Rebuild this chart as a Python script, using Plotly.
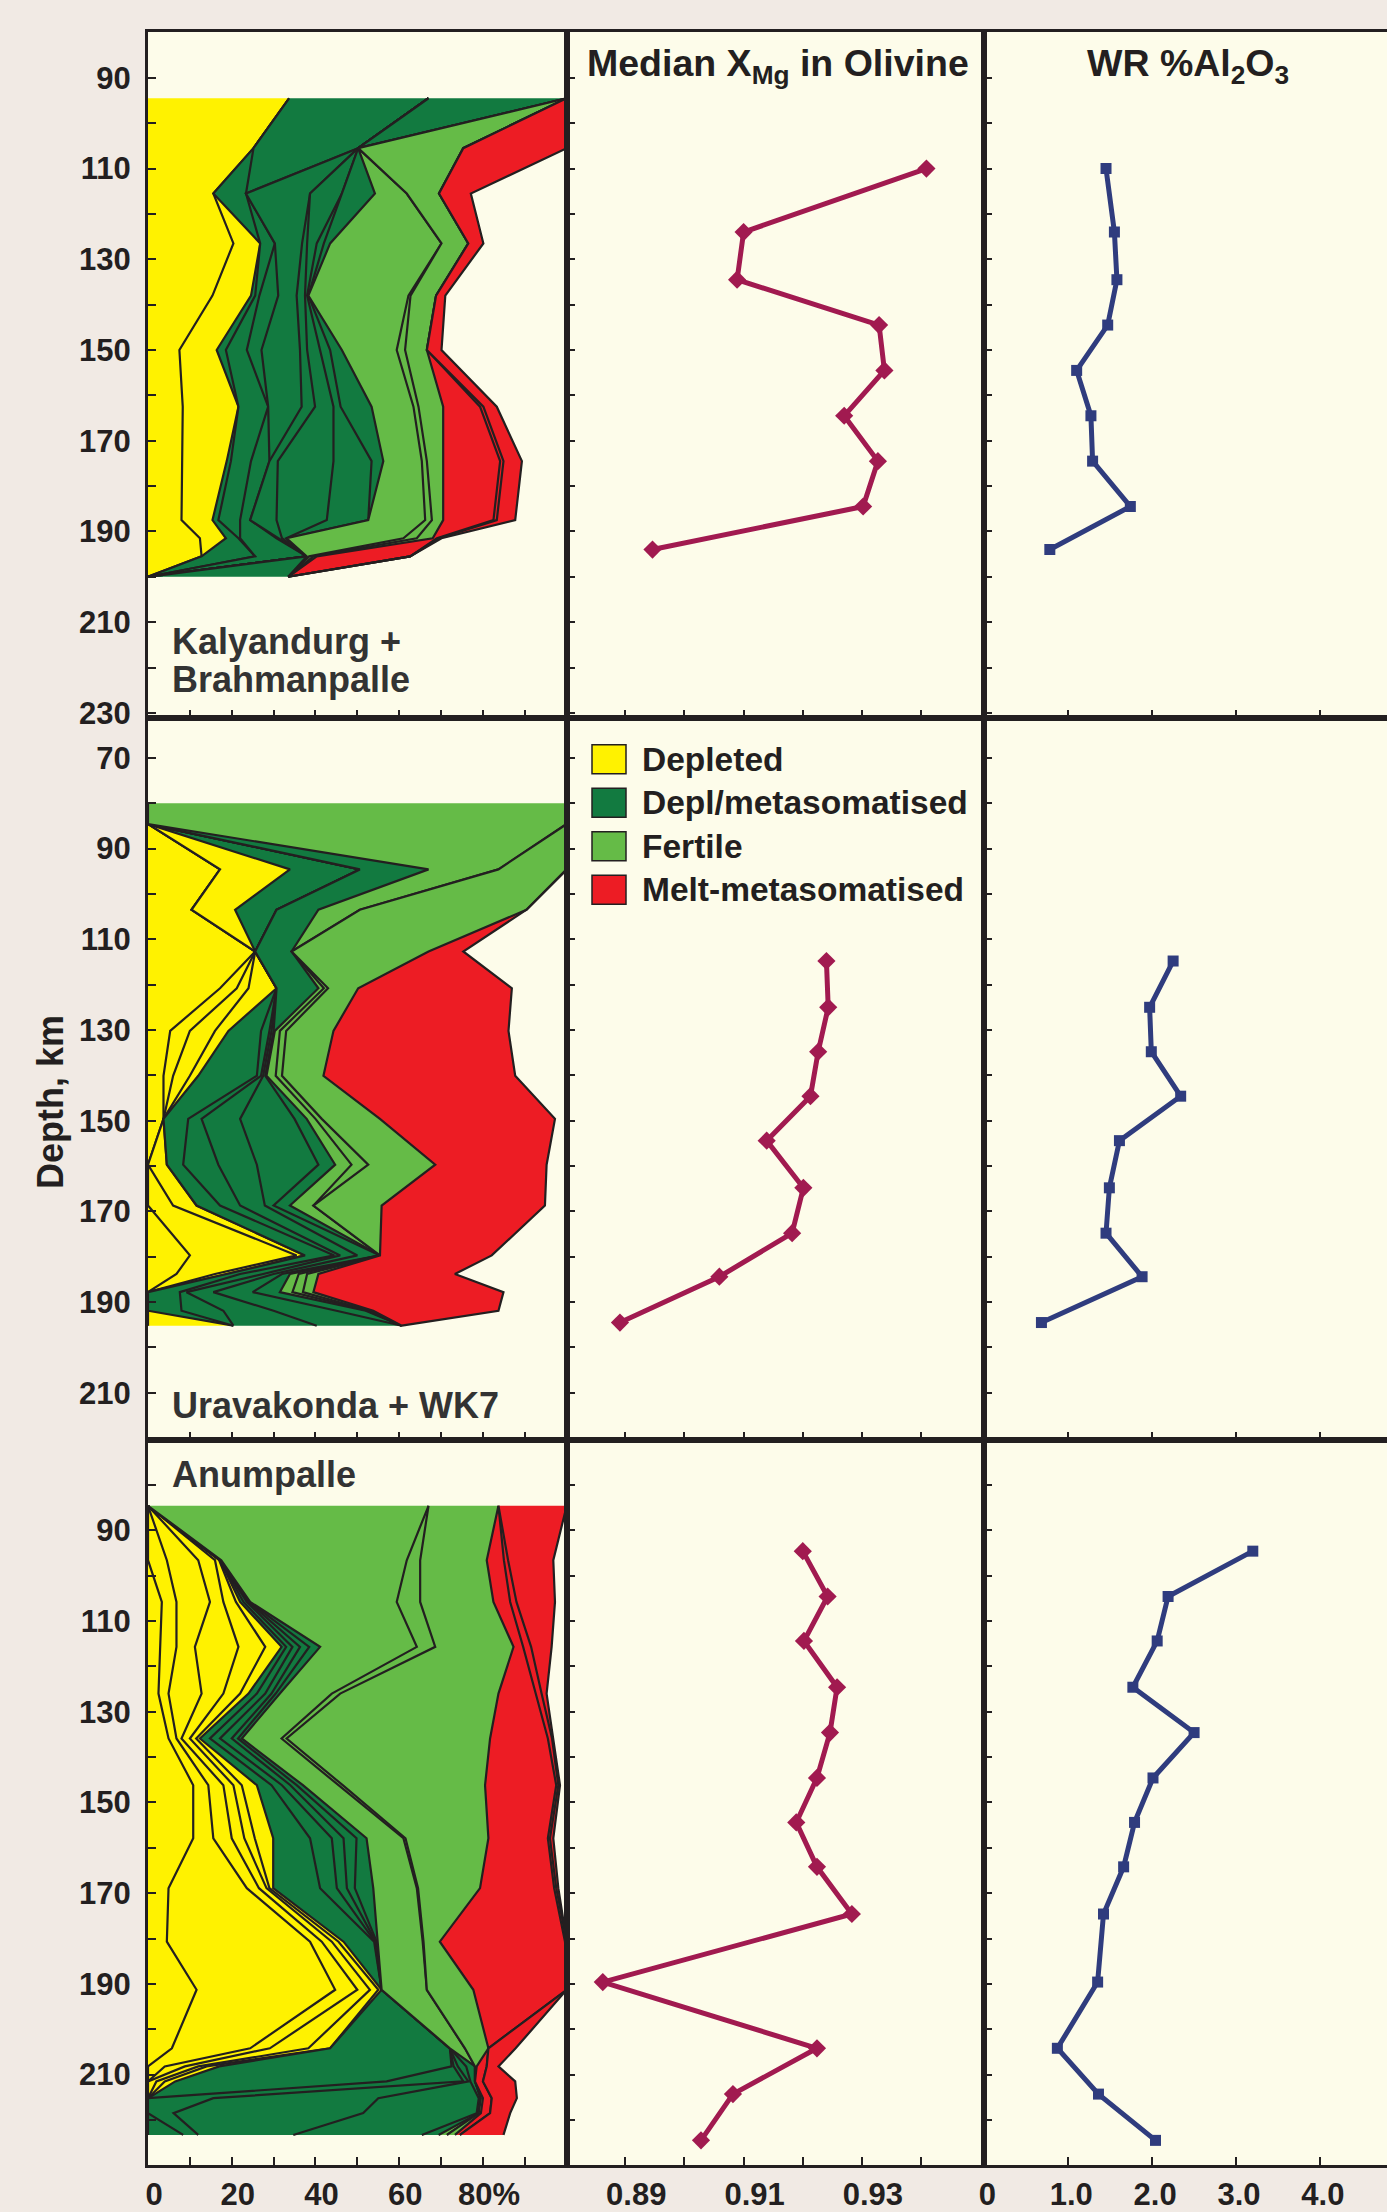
import plotly.graph_objects as go

# ================= DATA =================
# --- Kalyandurg + Brahmanpalle (row 1): cumulative % boundaries vs depth
depth_kb = [94.5, 105.5, 115.5, 126.5, 138, 150, 162.5, 174.5, 187.5, 191.5, 195.5, 200]
kb_dep1 = [33.7, 25.2, 15.6, 20.4, 15.4, 7.5, 8.3, 8.2, 8.0, 12.4, 12.8, 0]
kb_dep2 = [33.7, 25.2, 15.6, 26.8, 24.6, 16.4, 21.6, 18.8, 15.4, 18.6, 12.8, 0]
kb_met1 = [33.7, 25.2, 23.4, 26.8, 25.6, 18.6, 21.6, 19.8, 16.8, 21.6, 25.6, 0]
kb_met2 = [67, 50.2, 23.4, 30.3, 26.6, 23.6, 28.7, 24.6, 22.0, 22.0, 25.6, 0]
kb_met3 = [67, 50.2, 23.4, 30.3, 31.1, 27.1, 28.7, 29.0, 24.4, 30.7, 37.9, 0]
kb_met4 = [67, 50.2, 38.7, 36.8, 35.5, 36.3, 36.7, 29.0, 24.4, 31.0, 37.9, 0]
kb_met5 = [67, 50.2, 38.7, 38.0, 37.5, 38.0, 39.9, 31.0, 30.7, 32.0, 37.9, 0]
kb_met6 = [67, 50.2, 46.3, 40.3, 38.0, 41.0, 44.3, 44.3, 42.7, 33.0, 37.9, 0]
kb_met7 = [67, 50.2, 46.3, 42.0, 38.3, 43.5, 46.0, 53.4, 52.6, 33.1, 37.9, 0]
kb_met8 = [100, 50.2, 54.2, 43.5, 38.3, 46.3, 53.4, 56.2, 52.6, 33.1, 37.9, 33.5]
kb_fer1 = [100, 50.2, 61.8, 70.1, 62.2, 59.4, 63.4, 65.4, 66.2, 61.0, 38.5, 33.5]
kb_fer2 = [100, 50.2, 61.8, 70.1, 62.7, 61.4, 64.6, 66.6, 67.8, 64.2, 39.5, 33.5]
kb_fer3 = [100, 75.3, 69.5, 76.5, 68.8, 66.6, 70.5, 70.5, 70.5, 68.0, 40.3, 33.5]
kb_mlt1 = [100, 75.3, 69.5, 76.5, 68.8, 66.6, 79.3, 84.1, 82.5, 69.0, 62.6, 33.5]
kb_mlt2 = [100, 75.3, 69.5, 76.5, 68.8, 66.6, 80.1, 84.9, 83.3, 69.5, 62.6, 33.5]
kb_mlt3 = [100, 100, 77.1, 80.1, 71.0, 70.1, 83.3, 89.3, 87.7, 70.1, 62.6, 33.5]

# --- Uravakonda + WK7 (row 2)
depth_uw = [80, 84.6, 94.6, 103.5, 112.7, 120.8, 130.2, 140.1, 149.6, 159.7, 168.7, 179.7, 183.8, 187.8, 191.9, 195.2]
uw_dep1 = [0, 0, 17.2, 10.4, 25.6, 17.2, 5.3, 3.7, 3.7, 0, 0, 10.0, 6.8, 0, 0, 0]
uw_dep2 = [0, 0, 17.2, 10.4, 25.6, 21.2, 10.0, 6.0, 3.7, 0, 6.0, 35.5, 16.0, 0, 0, 0]
uw_dep3 = [0, 0, 17.2, 10.4, 25.6, 24.0, 16.0, 10.0, 3.7, 4.5, 11.6, 37.5, 18.8, 0, 0, 0]
uw_dep4 = [0, 0, 33.9, 20.8, 25.6, 30.7, 19.2, 12.0, 3.7, 4.5, 11.6, 37.5, 18.8, 0, 0, 20.4]
uw_met1 = [0, 0, 50.6, 30.7, 25.6, 30.7, 27.0, 26.0, 9.6, 8.4, 17.2, 44.5, 22.0, 7.6, 8.0, 20.4]
uw_met2 = [0, 0, 50.6, 30.7, 25.6, 30.7, 29.0, 27.0, 12.8, 16.8, 22.0, 45.9, 27.5, 9.2, 18.0, 20.4]
uw_met3 = [0, 0, 50.6, 30.7, 25.6, 30.7, 29.5, 27.5, 22.0, 26.0, 27.9, 50.0, 30.0, 15.6, 30.0, 40.3]
uw_met4 = [0, 0, 50.6, 30.7, 25.6, 30.7, 30.0, 28.0, 35.0, 40.7, 30.0, 55.4, 32.0, 25.0, 45.0, 60.6]
uw_met5 = [0, 0, 67.0, 40.7, 34.3, 40.7, 30.3, 28.3, 37.9, 44.7, 33.9, 55.4, 33.9, 31.5, 52.0, 60.6]
uw_fer1 = [100, 100, 83.7, 50.6, 34.3, 42.0, 31.5, 30.5, 40.0, 48.6, 39.5, 55.4, 36.0, 34.5, 52.5, 60.6]
uw_fer2 = [100, 100, 83.7, 50.6, 34.3, 43.0, 33.0, 32.0, 41.5, 52.6, 39.5, 55.4, 38.0, 37.0, 53.0, 60.6]
uw_fer3 = [100, 100, 100, 90.4, 67.0, 50.2, 44.3, 41.9, 55.4, 68.6, 55.8, 55.4, 40.7, 39.5, 53.8, 60.6]
uw_mlt1 = [100, 100, 100, 90.4, 75.3, 86.9, 86.1, 87.7, 97.2, 95.2, 94.8, 82.1, 73.3, 84.9, 83.7, 60.6]

# --- Anumpalle (row 3)
depth_an = [84.6, 96.6, 105.8, 115.7, 126.0, 135.9, 146.2, 157.9, 168.9, 180.7, 191.3, 204.2, 208.2, 211.5, 215.2, 218.5, 223.3]
an_dep1 = [0, 0, 3.3, 2.9, 2.5, 4.9, 10.8, 10.8, 4.9, 4.5, 11.6, 5.7, 0, 0, 0, 0, 0]
an_dep2 = [0, 4.5, 6.8, 6.8, 4.9, 6.8, 14.4, 15.6, 23.6, 38.7, 44.7, 24.4, 4.0, 0, 0, 0, 0]
an_dep3 = [0, 12.0, 14.8, 11.2, 12.8, 8.0, 18.0, 20.0, 26.5, 41.5, 50.0, 29.1, 8.8, 0, 0, 0, 0]
an_dep4 = [0, 16.0, 18.0, 21.6, 18.0, 10.0, 20.4, 23.0, 28.3, 43.9, 53.0, 38.3, 12.0, 2.0, 0, 0, 0]
an_dep5 = [0, 17.0, 21.0, 28.0, 22.0, 11.5, 22.4, 25.5, 29.0, 45.5, 55.0, 43.5, 14.0, 4.0, 0, 0, 0]
an_dep6 = [0, 17.2, 22.0, 31.9, 24.0, 12.4, 26.0, 29.9, 29.9, 46.7, 55.8, 43.5, 17.0, 6.5, 0, 0, 0]
an_met1 = [0, 17.2, 22.8, 33.0, 26.0, 14.8, 29.5, 38.7, 41.1, 54.0, 55.8, 72.1, 72.5, 57.0, 0, 0, 8.4]
an_met2 = [0, 17.2, 23.6, 34.5, 28.0, 17.2, 32.0, 43.9, 45.1, 54.2, 55.8, 72.1, 73.0, 75.3, 15.6, 6.1, 12.0]
an_met3 = [0, 17.2, 24.0, 36.3, 29.5, 20.0, 34.0, 46.7, 47.5, 54.4, 55.8, 72.1, 74.0, 76.5, 55.0, 51.4, 34.7]
an_met4 = [0, 17.2, 24.2, 38.5, 30.5, 21.5, 35.5, 49.8, 49.4, 54.6, 55.8, 72.1, 76.0, 77.0, 79.0, 78.5, 65.4]
an_met5 = [0, 17.5, 24.4, 41.1, 31.5, 22.4, 37.0, 52.2, 53.8, 54.8, 55.8, 72.1, 78.1, 78.1, 79.5, 79.0, 69.4]
an_fer1 = [67.0, 61.8, 59.4, 64.2, 43.9, 31.9, 45.5, 61.0, 64.2, 65.6, 66.6, 75.7, 78.1, 78.1, 79.5, 79.0, 71.4]
an_fer2 = [67.0, 65.0, 65.0, 68.6, 45.9, 33.1, 46.5, 61.5, 64.5, 65.8, 66.6, 75.7, 78.1, 78.1, 79.5, 79.0, 71.4]
an_fer3 = [83.7, 80.9, 82.5, 87.3, 83.7, 81.7, 80.5, 81.3, 79.3, 69.7, 77.7, 81.3, 78.5, 78.1, 80.0, 79.5, 73.3]
an_mlt1 = [83.7, 85.0, 86.5, 89.6, 92.6, 95.5, 97.5, 95.5, 97.0, 99.6, 100, 81.3, 80.9, 80.0, 82.1, 81.7, 74.5]
an_mlt2 = [83.7, 86.0, 88.0, 91.5, 94.0, 96.5, 98.0, 96.0, 97.5, 100, 100, 81.3, 80.9, 80.0, 82.1, 81.7, 74.5]
an_mlt3 = [100, 96.8, 97.2, 96.4, 95.2, 96.8, 98.4, 96.8, 98.0, 100, 100, 87.8, 83.7, 87.7, 88.1, 86.5, 84.9]

# --- Median XMg in olivine and WR %Al2O3
chem_depth_kb = [110, 124, 134.5, 144.5, 154.5, 164.5, 174.5, 184.5, 194]
xmg_kb = [0.9409, 0.9100, 0.9089, 0.9329, 0.9338, 0.9270, 0.9327, 0.9302, 0.8946]
al_kb = [1.45, 1.55, 1.58, 1.47, 1.10, 1.27, 1.29, 1.74, 0.78]

chem_depth_uw = [114.8, 125.0, 134.8, 144.6, 154.4, 164.8, 174.8, 184.4, 194.5]
xmg_uw = [0.9240, 0.9243, 0.9226, 0.9213, 0.9139, 0.9201, 0.9182, 0.9059, 0.8891]
al_uw = [2.25, 1.97, 1.99, 2.34, 1.61, 1.49, 1.45, 1.88, 0.68]

chem_depth_an = [94.6, 104.6, 114.4, 124.6, 134.6, 144.6, 154.4, 164.2, 174.6, 189.6, 204.2, 214.3, 224.5]
xmg_an = [0.9200, 0.9242, 0.9202, 0.9258, 0.9246, 0.9224, 0.9189, 0.9224, 0.9283, 0.8862, 0.9224, 0.9082, 0.9028]
al_an = [3.20, 2.19, 2.06, 1.77, 2.50, 2.01, 1.79, 1.66, 1.42, 1.35, 0.87, 1.36, 2.04]

categories = ["Depleted", "Depl/metasomatised", "Fertile", "Melt-metasomatised"]
site_names = ["Kalyandurg +", "Brahmanpalle", "Uravakonda + WK7", "Anumpalle"]

# tick marks (major = labelled, minor = unlabelled)
depth_major_kb = list(range(90, 231, 20)); depth_minor_kb = list(range(80, 231, 10))
depth_major_uw = list(range(70, 211, 20)); depth_minor_uw = list(range(60, 221, 10))
depth_major_an = list(range(90, 231, 20)); depth_minor_an = list(range(70, 231, 10))
pct_major = [0, 20, 40, 60, 80]; pct_text = ["0", "20", "40", "60", "80%"]; pct_minor = [10, 30, 50, 70, 90]
xmg_major = [0.89, 0.91, 0.93]; xmg_text = ["0.89", "0.91", "0.93"]; xmg_minor = [0.90, 0.92, 0.94]
al_major = [0, 1, 2, 3, 4]; al_text = ["0", "1.0", "2.0", "3.0", "4.0"]; al_minor = []

# ================= STYLE / LAYOUT =================
YEL, DKG, LTG, RED = "#FFF200", "#127A40", "#65BB47", "#ED1C24"
CAT_COLORS = [YEL, DKG, LTG, RED]
INK = "#231F20"
FONT = "Liberation Sans, Arial, Helvetica, sans-serif"
OL_COL, AL_COL = "#A11A50", "#2F3C7E"

W, H = 1387, 2212
ML, MT, MB = 148, 32, 45
PW, PH = W - ML, H - MT - MB
col_px = [148, 566.7, 984.4, 1387]
row_px = [32, 718.4, 1441.2, 2167]


def fx(p):
    return (p - ML) / PW


def fy(p):
    return (H - MB - p) / PH


x_ranges = [[0, 100], [0.8801, 0.9507], [0, 4.8]]
y_ranges = [[231.08, 79.89], [220.37, 61.17], [229.93, 70.07]]

panels = [
    (depth_kb, [(kb_dep1, YEL), (kb_dep2, YEL), (kb_met1, DKG), (kb_met2, DKG), (kb_met3, DKG),
                (kb_met4, DKG), (kb_met5, DKG), (kb_met6, DKG), (kb_met7, DKG), (kb_met8, DKG),
                (kb_fer1, LTG), (kb_fer2, LTG), (kb_fer3, LTG), (kb_mlt1, RED), (kb_mlt2, RED), (kb_mlt3, RED)]),
    (depth_uw, [(uw_dep1, YEL), (uw_dep2, YEL), (uw_dep3, YEL), (uw_dep4, YEL), (uw_met1, DKG),
                (uw_met2, DKG), (uw_met3, DKG), (uw_met4, DKG), (uw_met5, DKG), (uw_fer1, LTG),
                (uw_fer2, LTG), (uw_fer3, LTG), (uw_mlt1, RED)]),
    (depth_an, [(an_dep1, YEL), (an_dep2, YEL), (an_dep3, YEL), (an_dep4, YEL), (an_dep5, YEL),
                (an_dep6, YEL), (an_met1, DKG), (an_met2, DKG), (an_met3, DKG), (an_met4, DKG),
                (an_met5, DKG), (an_fer1, LTG), (an_fer2, LTG), (an_fer3, LTG), (an_mlt1, RED),
                (an_mlt2, RED), (an_mlt3, RED)]),
]
chem = [(chem_depth_kb, xmg_kb, al_kb), (chem_depth_uw, xmg_uw, al_uw), (chem_depth_an, xmg_an, al_an)]
depth_ticks = [(depth_major_kb, depth_minor_kb), (depth_major_uw, depth_minor_uw), (depth_major_an, depth_minor_an)]


def axn(k):
    return ("x" if k == 1 else f"x{k}"), ("y" if k == 1 else f"y{k}")


fig = go.Figure()

for r in range(3):
    depth, bands = panels[r]
    xa, ya = axn(r * 3 + 1)
    for i, (vals, colr) in enumerate(bands):
        fig.add_trace(go.Scatter(
            x=vals, y=depth, xaxis=xa, yaxis=ya, mode="lines",
            line=dict(color=INK, width=2.2), fill="tozerox" if i == 0 else "tonextx",
            fillcolor=colr, hoverinfo="skip", showlegend=False))
    d, xm, al = chem[r]
    xa, ya = axn(r * 3 + 2)
    fig.add_trace(go.Scatter(x=xm, y=d, xaxis=xa, yaxis=ya, mode="lines+markers",
                             line=dict(color=OL_COL, width=5),
                             marker=dict(symbol="diamond", size=14, color=OL_COL),
                             showlegend=False))
    xa, ya = axn(r * 3 + 3)
    fig.add_trace(go.Scatter(x=al, y=d, xaxis=xa, yaxis=ya, mode="lines+markers",
                             line=dict(color=AL_COL, width=5),
                             marker=dict(symbol="square", size=11, color=AL_COL),
                             showlegend=False))

tickfont = dict(family=FONT, size=31, color=INK, weight="bold")
x_tick_defs = [(pct_major, pct_text, pct_minor, 6), (xmg_major, xmg_text, xmg_minor, 11),
               (al_major, al_text, al_minor, 3)]
minor_style = dict(ticks="inside", ticklen=8, tickwidth=2, tickcolor=INK, showgrid=False)
layout = {}
for r in range(3):
    for c in range(3):
        k = r * 3 + c + 1
        xkey = "xaxis" if k == 1 else f"xaxis{k}"
        ykey = "yaxis" if k == 1 else f"yaxis{k}"
        xa, ya = axn(k)
        tv, tt, tmin, shift = x_tick_defs[c]
        layout[xkey] = dict(
            domain=[fx(col_px[c]), fx(col_px[c + 1])], range=x_ranges[c], anchor=ya,
            showline=True, linecolor=INK, linewidth=3, mirror=True,
            ticks="inside", ticklen=8, tickwidth=2, tickcolor=INK,
            tickmode="array", tickvals=tv, ticktext=tt,
            minor=dict(tickmode="array", tickvals=tmin, **minor_style),
            showticklabels=(r == 2), tickfont=tickfont, ticklabelshift=shift,
            ticklabelstandoff=0,
            showgrid=False, zeroline=False, fixedrange=True)
        dmaj, dmin = depth_ticks[r]
        layout[ykey] = dict(
            domain=[fy(row_px[r + 1]), fy(row_px[r])], range=y_ranges[r], anchor=xa,
            showline=True, linecolor=INK, linewidth=3, mirror=(c < 2),
            ticks="inside", ticklen=8, tickwidth=2, tickcolor=INK,
            tickmode="array", tickvals=dmaj, ticktext=[str(v) for v in dmaj],
            minor=dict(tickmode="array", tickvals=dmin, **minor_style),
            showticklabels=(c == 0), tickfont=tickfont, ticklabelstandoff=8,
            showgrid=False, zeroline=False, fixedrange=True)

annotations = []
title_font = dict(family=FONT, size=37.5, color=INK, weight="bold")
annotations.append(dict(text="Median X<sub>Mg</sub> in Olivine", x=fx(778), y=fy(66), xref="paper",
                        yref="paper", xanchor="center", yanchor="middle", showarrow=False, font=title_font))
annotations.append(dict(text="WR %Al<sub>2</sub>O<sub>3</sub>", x=fx(1188), y=fy(66), xref="paper",
                        yref="paper", xanchor="center", yanchor="middle", showarrow=False, font=title_font))
site_font = dict(family=FONT, size=36, color="#333333", weight="bold")
for name, ypx in zip(site_names, [642, 680, 1407, 1476]):
    annotations.append(dict(text=name, x=fx(170), y=fy(ypx), xref="paper", yref="paper",
                            xanchor="left", yanchor="middle", showarrow=False, font=site_font))
annotations.append(dict(text="Depth, km", x=fx(51), y=fy(1103), xref="paper", yref="paper",
                        xanchor="center", yanchor="middle", textangle=-90, showarrow=False,
                        font=dict(family=FONT, size=36, color=INK, weight="bold")))

shapes = []
leg_font = dict(family=FONT, size=33.5, color=INK, weight="bold")
for i, (cat, colr) in enumerate(zip(categories, CAT_COLORS)):
    yc = 760 + i * 43.5
    shapes.append(dict(type="rect", xref="paper", yref="paper", x0=fx(592), x1=fx(626),
                       y0=fy(yc + 14.5), y1=fy(yc - 14.5), fillcolor=colr,
                       line=dict(color=INK, width=1.5)))
    annotations.append(dict(text=cat, x=fx(640), y=fy(yc), xref="paper", yref="paper",
                            xanchor="left", yanchor="middle", showarrow=False, font=leg_font))

fig.update_layout(
    width=W, height=H, margin=dict(l=ML, r=0, t=MT, b=MB, pad=0),
    paper_bgcolor="#F1EAE4", plot_bgcolor="#FDFCEA", showlegend=False,
    annotations=annotations, shapes=shapes, **layout)

fig.write_html("out.html", config={"displayModeBar": False},
               post_script="document.body.style.margin='0';document.body.style.overflow='hidden';")
